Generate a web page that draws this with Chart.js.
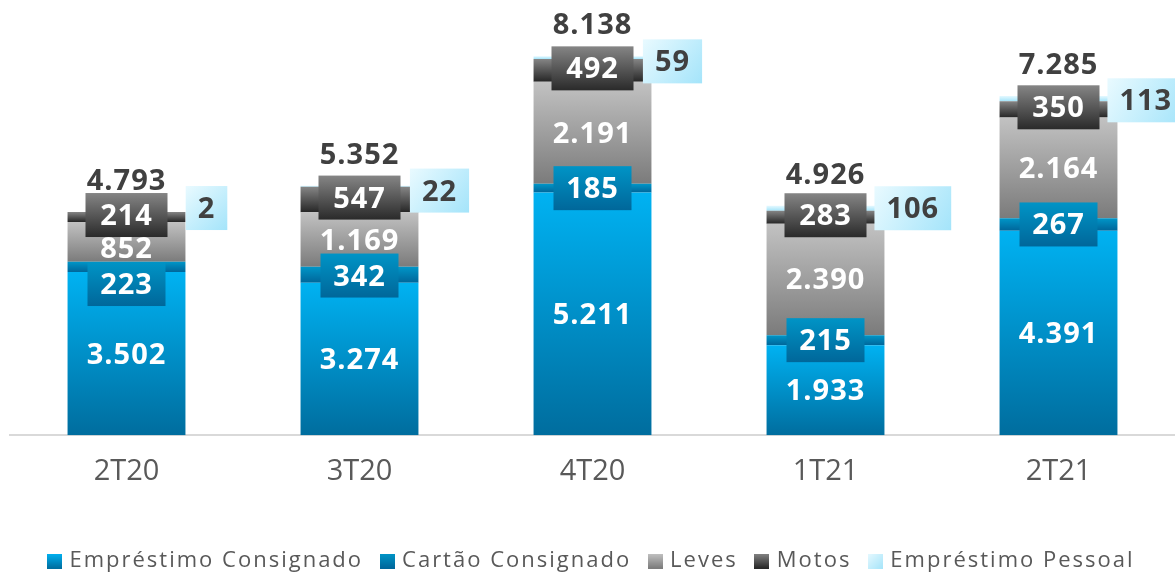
<!DOCTYPE html>
<html><head><meta charset="utf-8">
<script src="https://cdn.jsdelivr.net/npm/chart.js@4/dist/chart.umd.min.js"></script>
<style>html,body{margin:0;padding:0;background:#fff}canvas{display:block}</style>
</head><body>
<canvas id="c" width="1175" height="574"></canvas>
<script>
const categories = ['2T20', '3T20', '4T20', '1T21', '2T21'];
const emprestimoConsignado = [3502, 3274, 5211, 1933, 4391];
const cartaoConsignado = [223, 342, 185, 215, 267];
const leves = [852, 1169, 2191, 2390, 2164];
const motos = [214, 547, 492, 283, 350];
const emprestimoPessoal = [2, 22, 59, 106, 113];
const totals = [4793, 5352, 8138, 4926, 7285];
const seriesNames = ['Empréstimo Consignado', 'Cartão Consignado', 'Leves', 'Motos', 'Empréstimo Pessoal'];

const seriesData = [emprestimoConsignado, cartaoConsignado, leves, motos, emprestimoPessoal];
const gradStops = [
  ['#00b2f2', '#006d9e'],
  ['#0096c8', '#00669a'],
  ['#c2c2c2', '#7b7b7b'],
  ['#858585', '#262626'],
  ['#e6f9ff', '#a6e5fa']
];
const FONT = "'Open Sans', sans-serif";

function fmt(n) { return String(n).replace(/\B(?=(\d{3})+(?!\d))/g, '.'); }

function segGrad(ctx, di) {
  const chart = ctx.chart; const i = ctx.dataIndex;
  if (!chart.chartArea || i === undefined || !chart.scales.y) return gradStops[di][0];
  const y = chart.scales.y;
  let start = 0; for (let k = 0; k < di; k++) start += seriesData[k][i];
  const end = start + seriesData[di][i];
  const y0 = y.getPixelForValue(end), y1 = y.getPixelForValue(start);
  const g = chart.ctx.createLinearGradient(0, y0, 0, Math.max(y1, y0 + 1));
  g.addColorStop(0, gradStops[di][0]);
  g.addColorStop(1, gradStops[di][1]);
  return g;
}

function legendSwatch(di) {
  const c = document.createElement('canvas');
  c.width = 15; c.height = 15;
  const x = c.getContext('2d');
  const g = di === 4 ? x.createLinearGradient(0, 0, 15, 15) : x.createLinearGradient(0, 0, 0, 15);
  g.addColorStop(0, gradStops[di][0]); g.addColorStop(1, gradStops[di][1]);
  x.fillStyle = g; x.fillRect(0, 0, 15, 15);
  return c;
}
const swatches = seriesNames.map((_, i) => legendSwatch(i));

function box(ctx, cx, cy, w, h, c0, c1, diag) {
  const g = diag ? ctx.createLinearGradient(cx - w / 2, cy - h / 2, cx + w / 2, cy + h / 2)
                 : ctx.createLinearGradient(0, cy - h / 2, 0, cy + h / 2);
  g.addColorStop(0, c0); g.addColorStop(1, c1);
  ctx.fillStyle = g;
  ctx.fillRect(cx - w / 2, cy - h / 2, w, h);
}
function txt(ctx, s, cx, cy, color) {
  ctx.fillStyle = color;
  ctx.textAlign = 'center';
  ctx.textBaseline = 'alphabetic';
  ctx.fillText(s, cx, cy + 10);
}

const spacingPlugin = {
  id: 'legendSpacing',
  afterInit(chart) {
    const lg = chart.legend;
    if (!lg || lg._wrapped) return;
    lg._wrapped = true;
    const f = lg.fit.bind(lg), d = lg.draw.bind(lg);
    lg.fit = function () { chart.ctx.save(); chart.ctx.letterSpacing = '2px'; f(); chart.ctx.restore(); };
    lg.draw = function () { chart.ctx.save(); chart.ctx.letterSpacing = '2px'; d(); chart.ctx.restore(); };
  }
};

const labelPlugin = {
  id: 'labels',
  afterDatasetsDraw(chart) {
    const ctx = chart.ctx;
    ctx.save();
    ctx.font = "bold 29px " + FONT;
    ctx.letterSpacing = '1px';
    const BH = 44;
    categories.forEach((c, i) => {
      const el = k => chart.getDatasetMeta(k).data[i];
      const ec = el(0), ca = el(1), le = el(2), mo = el(3), pe = el(4);
      const x = ec.x;
      const barRight = x + ec.width / 2;
      const moCy = (mo.y + mo.base) / 2 - 2;
      const leCy = Math.max((le.y + le.base) / 2, moCy + BH / 2 + 11);
      const caCy = Math.max((ca.y + ca.base) / 2, leCy + 14 + BH / 2);
      const ecCy = (ec.y + ec.base) / 2;
      txt(ctx, fmt(emprestimoConsignado[i]), x, ecCy, '#ffffff');
      box(ctx, x, caCy, 78, BH, '#0094c6', '#00679a');
      txt(ctx, fmt(cartaoConsignado[i]), x, caCy, '#ffffff');
      txt(ctx, fmt(leves[i]), x, leCy, '#ffffff');
      box(ctx, x, moCy, 82, BH, '#858585', '#2a2a2a');
      txt(ctx, fmt(motos[i]), x, moCy, '#ffffff');
      const pTxt = fmt(emprestimoPessoal[i]);
      const pw = ctx.measureText(pTxt).width + 24;
      const pCx = Math.max(x + 80, barRight - 10 + pw / 2);
      const pCy = moCy - 7;
      box(ctx, pCx, pCy, pw, BH, '#e9faff', '#a4e4fa', true);
      txt(ctx, pTxt, pCx, pCy, '#404040');
      txt(ctx, fmt(totals[i]), x, pe.y - 32, '#404040');
    });
    ctx.restore();
  }
};

new Chart(document.getElementById('c'), {
  type: 'bar',
  data: {
    labels: categories,
    datasets: seriesData.map((d, di) => ({
      label: seriesNames[di],
      data: d,
      backgroundColor: ctx => segGrad(ctx, di),
      borderWidth: 0,
      categoryPercentage: 1,
      barPercentage: 0.506
    }))
  },
  options: {
    responsive: false,
    devicePixelRatio: 1,
    animation: false,
    layout: { padding: { top: 16, left: 10, right: 0, bottom: -8 } },
    scales: {
      x: {
        stacked: true,
        grid: { display: false, drawTicks: false },
        border: { display: true, color: '#d9d9d9', width: 2 },
        ticks: { font: { family: FONT, size: 29 }, color: '#595959', padding: 19 },
        afterFit: s => { s.height += 22; }
      },
      y: { stacked: true, display: false, min: 0, max: 9000 }
    },
    plugins: {
      tooltip: { enabled: false },
      legend: {
        position: 'bottom',
        labels: {
          font: { family: FONT, size: 22 },
          color: '#595959',
          usePointStyle: true,
          pointStyleWidth: 8,
          padding: 20,
          generateLabels: chart => seriesNames.map((n, i) => ({
            text: n, pointStyle: swatches[i], fillStyle: gradStops[i][0],
            strokeStyle: 'transparent', lineWidth: 0, datasetIndex: i, hidden: false,
            fontColor: '#595959'
          }))
        }
      }
    }
  },
  plugins: [spacingPlugin, labelPlugin]
});
</script>
</body></html>
